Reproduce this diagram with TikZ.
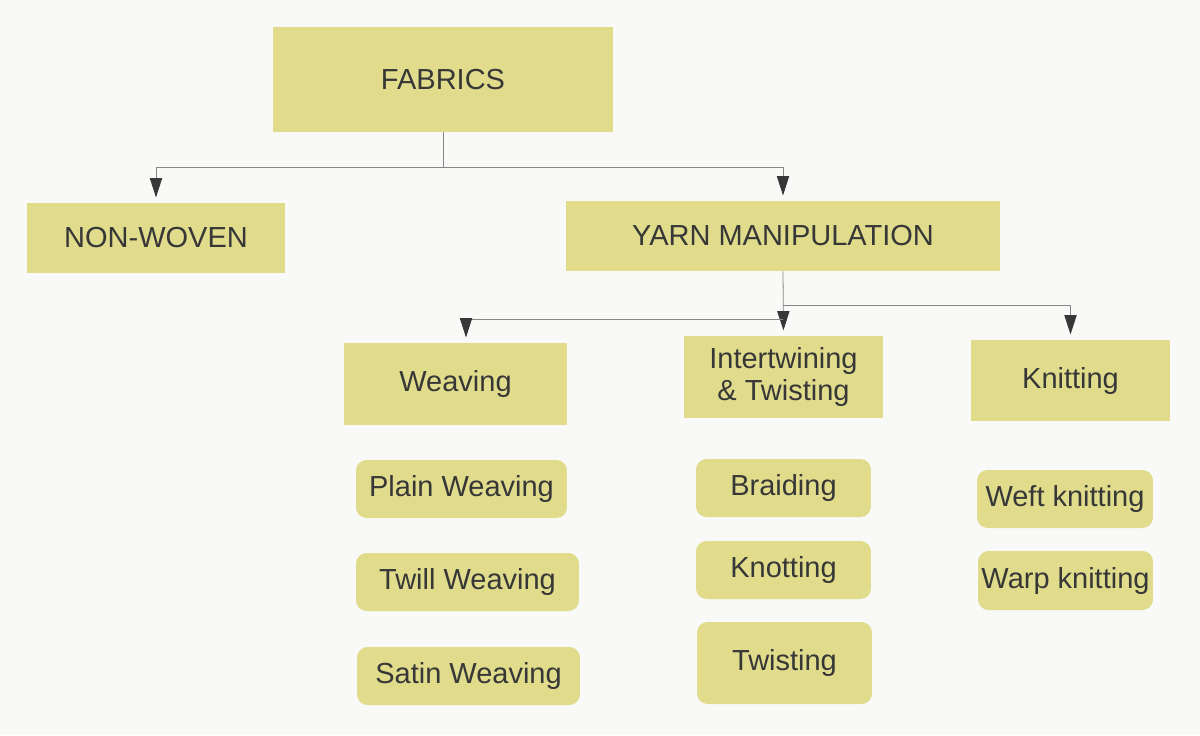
\documentclass[tikz,border=0pt]{standalone}
\usepackage{fontspec}
\setmainfont{Liberation Sans}
\usepackage{xcolor}
\definecolor{boxyellow}{RGB}{224,220,140}
\definecolor{pagegray}{RGB}{249,249,247}
\definecolor{inkgray}{RGB}{55,55,55}
\definecolor{linegray}{RGB}{135,135,135}
\usetikzlibrary{arrows.meta}

\begin{document}
\begin{tikzpicture}[x=0.02cm,y=-0.02cm,
    catbox/.style={fill=boxyellow,text=inkgray,inner sep=0pt,align=center,
      font=\fontsize{16.5}{18}\selectfont},
    subbox/.style={catbox,rounded corners=6pt},
    link/.style={draw=linegray,line width=0.45pt},
    tip/.style={-{Triangle[length=11pt,width=7pt,color=inkgray]},shorten >=3pt}]
        \fill[pagegray] (0,0) rectangle (1200,735);
        % top levels
        \node[catbox,minimum width=6.8cm,minimum height=2.1cm] (fabrics) at (443,79.5) {FABRICS};
        \node[catbox,minimum width=5.16cm,minimum height=1.4cm] (nonwoven) at (156,238) {NON-WOVEN};
        \node[catbox,minimum width=8.68cm,minimum height=1.4cm] (yarn) at (783,236) {YARN MANIPULATION};
        \node[catbox,minimum width=4.46cm,minimum height=1.64cm] (weave) at (455.5,384) {Weaving};
        \node[catbox,minimum width=3.98cm,minimum height=1.64cm] (twine) at (783.5,377) {Intertwining\\\& Twisting};
        \node[catbox,minimum width=3.98cm,minimum height=1.62cm] (knit) at (1070.5,380.5) {Knitting};
        % kinds
        \node[subbox,minimum width=4.22cm,minimum height=1.16cm] (plain) at (461.5,489) {Plain Weaving};
        \node[subbox,minimum width=4.46cm,minimum height=1.16cm] (twill) at (467.5,582) {Twill Weaving};
        \node[subbox,minimum width=4.46cm,minimum height=1.16cm] (satin) at (468.5,676) {Satin Weaving};
        \node[subbox,minimum width=3.5cm,minimum height=1.16cm] (braid) at (783.5,488) {Braiding};
        \node[subbox,minimum width=3.5cm,minimum height=1.16cm] (knot) at (783.5,570) {Knotting};
        \node[subbox,minimum width=3.5cm,minimum height=1.64cm] (twist) at (784.5,663) {Twisting};
        \node[subbox,minimum width=3.52cm,minimum height=1.16cm] (weft) at (1065,499) {Weft knitting};
        \node[subbox,minimum width=3.5cm,minimum height=1.18cm] (warp) at (1065.5,580.5) {Warp knitting};
        % connectors
        \coordinate (fsplit) at (443,167);
        \coordinate (ysplit) at (783,305);
        \coordinate (wsplit) at (783,319);
        \draw[link] (fabrics.south) -- (fsplit);
        \draw[link,tip] (fsplit) -| (nonwoven.north);
        \draw[link,tip] (fsplit) -| (yarn.north);
        \draw[link,tip] (yarn.south) -- (twine.north);
        \draw[link,tip] (ysplit) -| (knit.north);
        \draw[link,tip] (wsplit) -| ([xshift=0.21cm]weave.north);
      \end{tikzpicture}
\end{document}
